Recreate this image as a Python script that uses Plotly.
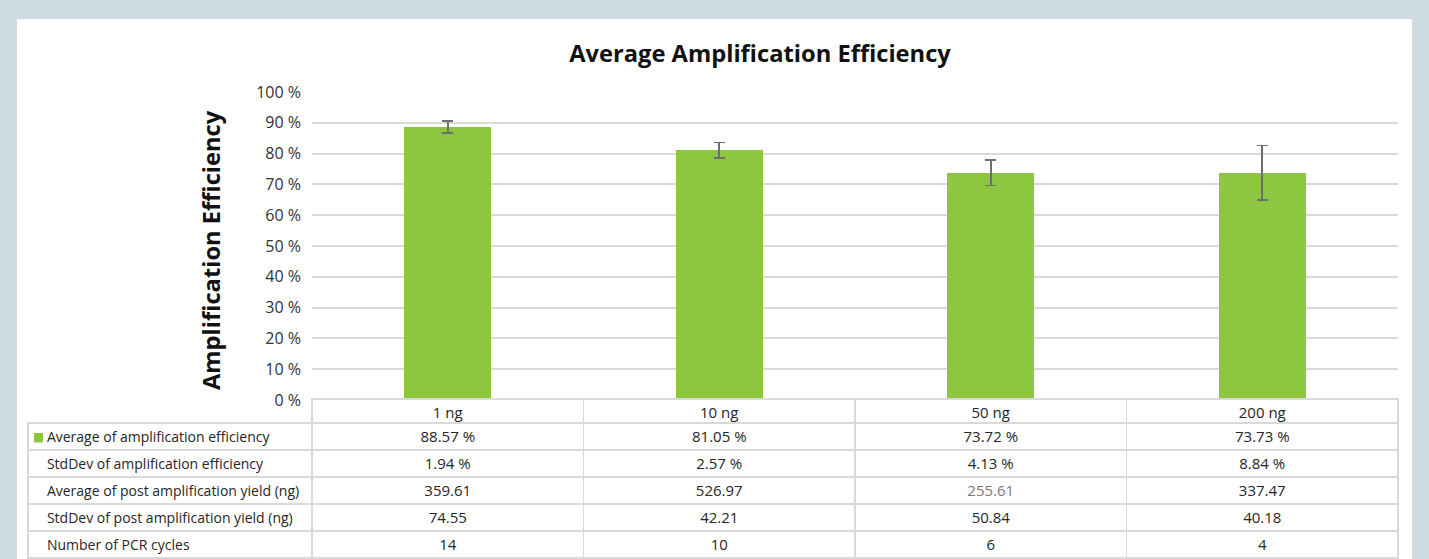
import plotly.graph_objects as go

W, H = 1429, 559

categories = ["1 ng", "10 ng", "50 ng", "200 ng"]
avg_eff = [88.57, 81.05, 73.72, 73.73]
sd_eff = [1.94, 2.57, 4.13, 8.84]
avg_yield = [359.61, 526.97, 255.61, 337.47]
sd_yield = [74.55, 42.21, 50.84, 40.18]
pcr_cycles = [14, 10, 6, 4]
row_labels = [
    "Average of amplification efficiency",
    "StdDev of amplification efficiency",
    "Average of post amplification yield (ng)",
    "StdDev of post amplification yield (ng)",
    "Number of PCR cycles",
]
y_ticks = list(range(0, 101, 10))
y_ticktext = [f"{v} %" for v in y_ticks]

GREEN = "#8dc63f"
GRID = "#d9d9d9"
TXT = "#262626"
FONT = "Open Sans"
CLEAR = "rgba(0,0,0,0)"


def px_x(p):
    return p / W


def px_y(p):
    return 1 - p / H


fig = go.Figure()

fig.add_trace(go.Bar(
    x=categories, y=avg_eff, width=0.32,
    marker=dict(color=GREEN, line=dict(width=0)),
    error_y=dict(type="data", array=sd_eff, visible=True,
                 color="#6e6e6e", thickness=1.6, width=5.5),
    showlegend=False, hoverinfo="skip",
))

# data table below the plot
label_col = ["   " + r for r in row_labels]
cols = [label_col]
fcols = [[TXT] * 5]
for i in range(len(categories)):
    cols.append([f"{avg_eff[i]:.2f} %", f"{sd_eff[i]:.2f} %", f"{avg_yield[i]:.2f}",
                 f"{sd_yield[i]:.2f}", f"{pcr_cycles[i]}"])
    fcols.append([TXT, TXT, "#7a7a7a" if i == 2 else TXT, TXT, TXT])

fig.add_trace(go.Table(
    domain=dict(x=[px_x(28), px_x(1398.5)], y=[0, px_y(399)]),
    columnwidth=[284, 271.5, 271.5, 271.5, 271.5],
    header=dict(values=[""] + categories, height=24,
                align=["left"] + ["center"] * 4,
                fill=dict(color=[CLEAR] + ["white"] * 4),
                line=dict(color=[CLEAR] + [GRID] * 4, width=1.5),
                font=dict(family=FONT, size=15, color=TXT)),
    cells=dict(values=cols, height=27,
               align=["left"] + ["center"] * 4,
               fill=dict(color="white"),
               line=dict(color=GRID, width=1.5),
               font=dict(family=FONT, size=[14, 15, 15, 15, 15], color=fcols)),
))

# legend key in the table
fig.add_shape(type="rect", xref="paper", yref="paper",
              x0=px_x(34), x1=px_x(43), y0=px_y(442.5), y1=px_y(433),
              fillcolor=GREEN, line=dict(width=0), layer="above")

fig.add_annotation(
    text="<b>Amplification Efficiency</b>", textangle=-90,
    xref="paper", yref="paper", x=px_x(211), y=px_y(250),
    xanchor="center", yanchor="middle", showarrow=False,
    font=dict(family=FONT, size=23.7, color="#111"),
)

fig.add_shape(type="rect", xref="paper", yref="paper",
              x0=px_x(17), x1=px_x(1412), y0=0, y1=px_y(19),
              fillcolor="white", line=dict(width=0), layer="below")

fig.update_layout(
    width=W, height=H,
    margin=dict(l=0, r=0, t=0, b=0, autoexpand=False),
    paper_bgcolor="#cddce3",
    plot_bgcolor=CLEAR,
    title=dict(text="<b>Average Amplification Efficiency</b>",
               x=px_x(760), y=px_y(54), xanchor="center", yanchor="middle",
               font=dict(family=FONT, size=23.7, color="#111")),
    xaxis=dict(domain=[px_x(312), px_x(1398)], showticklabels=False,
               showgrid=False, zeroline=False, showline=False, ticks=""),
    yaxis=dict(domain=[px_y(400), px_y(92)], range=[0, 100],
               tickmode="array", tickvals=y_ticks, ticktext=y_ticktext,
               ticklabelstandoff=10, automargin=False,
               showgrid=True, gridcolor=GRID, gridwidth=1.5,
               zeroline=False, showline=False, ticks="",
               tickfont=dict(family=FONT, size=16, color="#333")),
    bargap=0,
)

fig.write_html("out.html", config={"displayModeBar": False},
               post_script="document.body.style.margin='0';document.body.style.overflow='hidden';")
